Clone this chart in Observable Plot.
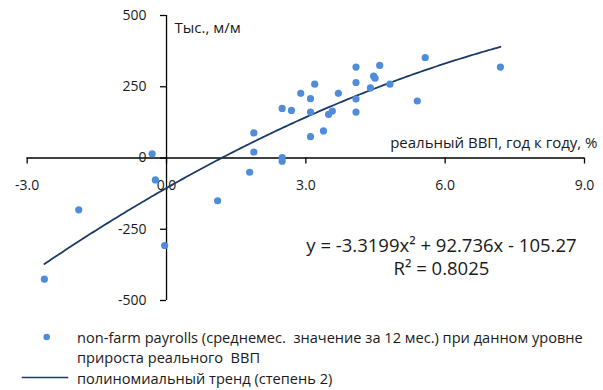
<!DOCTYPE html>
<html>
<head>
<meta charset="utf-8">
<script src="https://cdn.jsdelivr.net/npm/d3@7"></script>
<script src="https://cdn.jsdelivr.net/npm/@observablehq/plot@0.6"></script>
<style>
  html, body { margin: 0; padding: 0; background: #fff; overflow: hidden; }
  body { width: 603px; height: 390px; font-family: "Open Sans", sans-serif; color: #1a1a1a; }
  #legend { position: relative; width: 603px; height: 78px; font-size: 14.6px; }
  #legend .t { position: absolute; left: 77px; line-height: 20px; white-space: pre; }
</style>
</head>
<body>
<div id="chart"></div>
<div id="legend"></div>
<script>
// Real GDP growth, y/y %
const gdp = [-2.63, -1.89, -0.31, -0.24, -0.04, 1.10, 1.79, 1.88, 1.88, 2.49, 2.49, 2.49, 2.69, 2.89,
             3.10, 3.10, 3.10, 3.19, 3.38, 3.49, 3.57, 3.70, 4.08, 4.08, 4.08, 4.08, 4.39, 4.46, 4.49,
             4.59, 4.81, 5.40, 5.57, 7.19];
// Non-farm payrolls, thousands m/m (12-month average)
const nfp = [-425, -182, 15, -77, -307, -150, -50, 21, 88, 1, -11, 174, 167, 227,
             208, 161, 75, 259, 95, 153, 165, 227, 319, 265, 207, 161, 246, 287, 280,
             325, 259, 200, 352, 319];
// Polynomial trend coefficients (as printed on the chart): a*x^2 + b*x + c
const trendCoef = [-3.3199, 92.736, -105.27];
const xTicks = [-3, 0, 3, 6, 9];
const xTickLabels = ["-3.0", "0.0", "3.0", "6.0", "9.0"];
const yTicks = [-500, -250, 0, 250, 500];
const yTickLabels = ["-500", "-250", "0", "250", "500"];
const yTitle = "Тыс., м/м";
const xTitle = "реальный ВВП, год к году, %";
const eqLines = ["y = -3.3199x² + 92.736x - 105.27", "R² = 0.8025"];
const legendLabels = ["non-farm payrolls (среднемес.  значение за 12 мес.) при данном уровне\nприроста реального  ВВП", "полиномиальный тренд (степень 2)"];

const dotColor = "#4f8ddb";
const lineColor = "#1b3a66";

const points = gdp.map((x, i) => ({x, y: nfp[i]}));
const xmin = d3.min(gdp), xmax = d3.max(gdp);
const trend = d3.range(xmin, xmax + 1e-9, 0.05).concat([xmax])
  .map(x => ({x, y: trendCoef[0] * x * x + trendCoef[1] * x + trendCoef[2]}));

const chart = Plot.plot({
  width: 603,
  height: 312,
  marginLeft: 26.7,
  marginRight: 19,
  marginTop: 15,
  marginBottom: 12,
  x: {domain: [-3, 9], axis: null},
  y: {domain: [-500, 500], axis: null},
  style: {fontFamily: "Open Sans, sans-serif", color: "#1a1a1a", background: "#fff"},
  marks: [
    // axis lines crossing at origin
    Plot.ruleY([0], {x1: -3, x2: 9, stroke: "#000", strokeWidth: 1.3}),
    Plot.ruleX([0], {y1: -500, y2: 500, stroke: "#000", strokeWidth: 1.3}),
    // ticks
    Plot.ruleX(xTicks, {x: d => d, y1: () => 0, y2: () => 0, insetTop: 0, insetBottom: -6, stroke: "#000", strokeWidth: 1.3}),
    Plot.ruleY(yTicks, {y: d => d, x1: () => 0, x2: () => 0, insetLeft: -6, insetRight: 0, stroke: "#000", strokeWidth: 1.3}),
    // tick labels
    Plot.text(xTicks, {x: d => d, y: () => 0, text: (d, i) => xTickLabels[i], dy: 28, fontSize: 14, fill: "#1a1a1a"}),
    Plot.text(yTicks, {x: () => 0, y: d => d, text: (d, i) => yTickLabels[i], dx: -20, textAnchor: "end", fontSize: 14, fill: "#1a1a1a"}),
    // axis titles
    Plot.text([yTitle], {x: () => 0, y: () => 500, text: d => d, dx: 8, dy: 13, textAnchor: "start", fontSize: 15, fill: "#1a1a1a"}),
    Plot.text([xTitle], {x: () => 9, y: () => 0, text: d => d, dx: 13, dy: -15, textAnchor: "end", fontSize: 15, fill: "#1a1a1a"}),
    // trend line
    Plot.line(trend, {x: "x", y: "y", stroke: lineColor, strokeWidth: 1.8}),
    // points
    Plot.dot(points, {x: "x", y: "y", r: 3.6, fill: dotColor, stroke: "none"}),
    // equation
    Plot.text([eqLines[0]], {x: () => 5.92, y: () => -309, text: d => d, fontSize: 18.5, fill: "#1a1a1a"}),
    Plot.text([eqLines[1]], {x: () => 5.92, y: () => -389, text: d => d, fontSize: 18.5, fill: "#1a1a1a"})
  ]
});
document.getElementById("chart").appendChild(chart);

// legend
const legend = d3.select("#legend");
const lsvg = legend.append("svg").attr("width", 603).attr("height", 78)
  .style("position", "absolute").style("left", 0).style("top", 0);
lsvg.append("circle").attr("cx", 46.7).attr("cy", 25).attr("r", 3.3).attr("fill", dotColor);
lsvg.append("line").attr("x1", 21.7).attr("x2", 68.3).attr("y1", 65.5).attr("y2", 65.5)
  .attr("stroke", lineColor).attr("stroke-width", 1.6);
legend.append("div").attr("class", "t").style("top", "15px").text(legendLabels[0]);
legend.append("div").attr("class", "t").style("top", "55.5px").text(legendLabels[1]);
</script>
</body>
</html>
